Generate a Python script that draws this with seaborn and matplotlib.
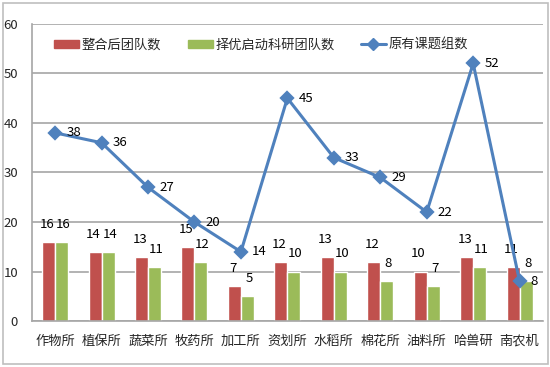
import numpy as np
import pandas as pd
import matplotlib
matplotlib.use('Agg')
import matplotlib.pyplot as plt
from matplotlib.patches import Patch, Rectangle
from matplotlib.lines import Line2D
import seaborn as sns

# 数据
categories = ['作物所', '植保所', '蔬菜所', '牧药所', '加工所', '资划所',
              '水稻所', '棉花所', '油料所', '哈兽研', '南农机']
merged_teams = [16, 14, 13, 15, 7, 12, 13, 12, 10, 13, 11]
selected_teams = [16, 14, 11, 12, 5, 10, 10, 8, 7, 11, 8]
original_groups = [38, 36, 27, 20, 14, 45, 33, 29, 22, 52, 8]
series_names = ['整合后团队数', '择优启动科研团队数', '原有课题组数']
y_ticks = [0, 10, 20, 30, 40, 50, 60]

red, green, blue = '#C0504D', '#9BBB59', '#4F81BD'
grid_gray = '#A6A6A6'

sns.set_theme(style='white')
plt.rcParams['font.family'] = ['Noto Sans CJK SC', 'DejaVu Sans']

df = pd.DataFrame({
    '所': categories * 2,
    '数量': merged_teams + selected_teams,
    '系列': [series_names[0]] * len(categories) + [series_names[1]] * len(categories),
})

fig = plt.figure(figsize=(5.5, 3.67), dpi=100)
ax = fig.add_axes([0.058, 0.125, 0.929, 0.81])

sns.barplot(data=df, x='所', y='数量', hue='系列', palette=[red, green],
            width=0.56, saturation=1, ax=ax, legend=False, zorder=2)
# 柱顶标签，两组稍微左右错开
for k, cont in enumerate(ax.containers):
    dx = -1.2 if k == 0 else 1.2
    for bar in cont:
        h = bar.get_height()
        ax.annotate(f'{h:.0f}', (bar.get_x() + bar.get_width() / 2, h),
                    xytext=(dx, 8), textcoords='offset points',
                    ha='center', va='bottom', fontsize=9.5, color='black')

sns.pointplot(x=categories, y=original_groups, color=blue, markers='D',
              markersize=6, linewidth=2.2, ax=ax, zorder=4)
for i, v in enumerate(original_groups):
    ax.annotate(str(v), (i, v), xytext=(8, 0), textcoords='offset points',
                ha='left', va='center', fontsize=9.5, color='black', zorder=5)

# 坐标轴
ax.set_ylim(0, 60)
ax.set_yticks(y_ticks)
ax.set_xlim(-0.5, len(categories) - 0.5)
ax.set_xlabel('')
ax.set_ylabel('')
ax.yaxis.grid(True, color=grid_gray, linewidth=1.2, zorder=0)
ax.set_axisbelow(True)
for s in ['top', 'right']:
    ax.spines[s].set_visible(False)
for s in ['left', 'bottom']:
    ax.spines[s].set_color(grid_gray)
    ax.spines[s].set_linewidth(1.2)
ax.tick_params(axis='x', which='major', length=0, labelsize=9.5, pad=10)
ax.set_xticks(np.arange(-0.5, len(categories), 1), minor=True)
ax.tick_params(axis='x', which='minor', length=6, color=grid_gray, width=1.2)
ax.tick_params(axis='y', length=4, color=grid_gray, width=1.2, labelsize=9.5, pad=6)

handles = [Patch(color=red), Patch(color=green),
           Line2D([], [], color=blue, marker='D', markersize=6, linewidth=2.2)]
ax.legend(handles, series_names, ncol=3, loc='upper left',
          bbox_to_anchor=(0.02, 0.99), frameon=False, fontsize=9.5,
          handlelength=1.9, handleheight=0.6, columnspacing=2.0, handletextpad=0.2)

fig.patches.append(Rectangle((0.005, 0.008), 0.991, 0.984, transform=fig.transFigure,
                             fill=False, edgecolor='#BFBFBF', linewidth=1.2))

fig.savefig('out.png', dpi=100)
